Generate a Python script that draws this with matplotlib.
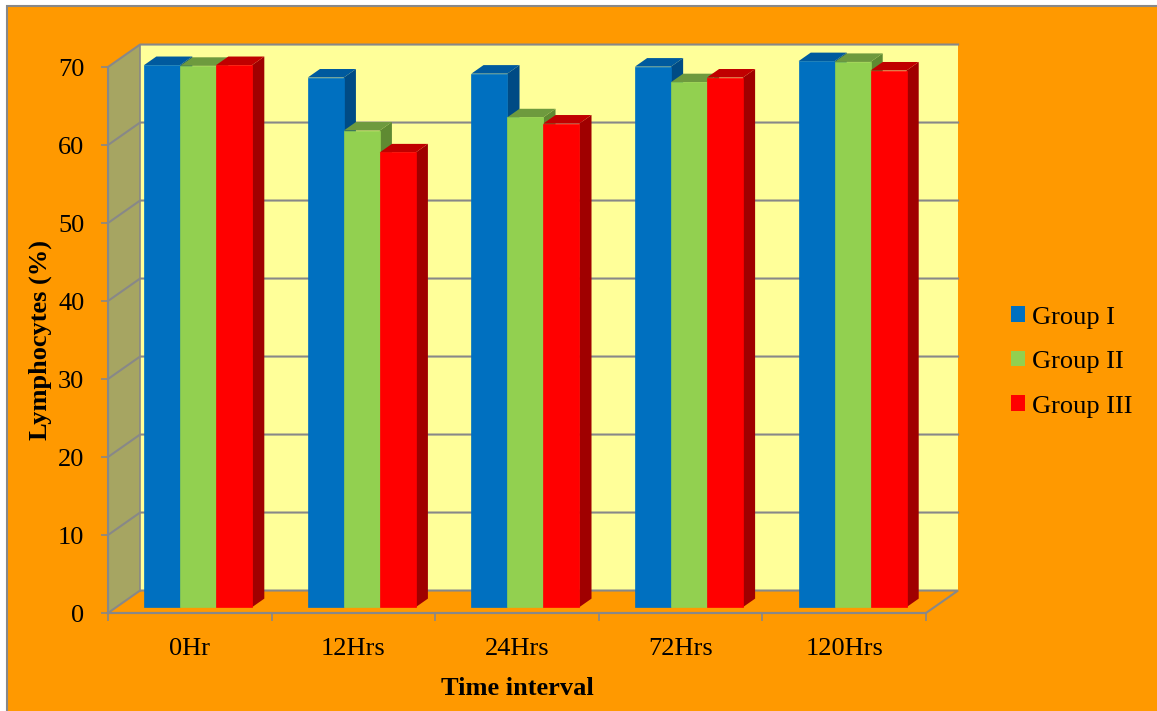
import matplotlib
matplotlib.use('Agg')
import matplotlib.pyplot as plt
from matplotlib.patches import Polygon, Rectangle, Patch

# Lymphocyte counts (%) per group over time
categories = ['0Hr', '12Hrs', '24Hrs', '72Hrs', '120Hrs']
group_1 = [69.5, 67.9, 68.4, 69.3, 70.0]
group_2 = [69.4, 61.1, 62.8, 67.3, 69.9]
group_3 = [69.5, 58.3, 62.0, 67.9, 68.8]
series_names = ['Group I', 'Group II', 'Group III']
y_ticks = [0, 10, 20, 30, 40, 50, 60, 70]

# (front, top, side) shades for each series
shades = [('#0070C0', '#005A9E', '#004B85'),
          ('#92D050', '#6E9A3E', '#5F8A32'),
          ('#FF0000', '#C00000', '#A00000')]

W, H = 1157, 711
DX, DY = 0.196, 2.88     # offset of the back wall, in data units
Z0, Z1 = 0.26, 0.64      # depth span of the bars (0 = front, 1 = back wall)
BAR_W = 0.22
GRAY = '#888888'
ORANGE = '#FF9900'

plt.rcParams['font.family'] = ['Liberation Serif', 'DejaVu Serif']
FS = 19


def proj(x, y, z):
    """Fake 3D: shift a point towards the back wall."""
    return (x + z * DX, y + z * DY)


def poly(ax, pts, fc, ec='none', lw=0.0, z=1):
    ax.add_patch(Polygon(pts, closed=True, facecolor=fc, edgecolor=ec,
                         linewidth=lw, clip_on=False, zorder=z))


fig = plt.figure(figsize=(W / 100, H / 100), dpi=100, facecolor='white')
fig.add_artist(Rectangle((7 / W, -0.05), 1.2, 1 - 6 / H + 0.05,
                         transform=fig.transFigure, facecolor=ORANGE,
                         edgecolor=GRAY, linewidth=1.5, zorder=0))

ax = fig.add_axes([108 / W, (H - 613) / H, 818 / W, 546 / H])
ax.set_xlim(0, len(categories))
ax.set_ylim(0, 70)
ax.patch.set_visible(False)

n = len(categories)
top = y_ticks[-1]

# walls and floor
poly(ax, [proj(0, 0, 0), proj(0, top, 0), proj(0, top, 1), proj(0, 0, 1)], '#A6A562')
poly(ax, [proj(0, 0, 1), proj(n, 0, 1), proj(n, top, 1), proj(0, top, 1)], '#FFFF99')
poly(ax, [proj(0, 0, 0), proj(n, 0, 0), proj(n, 0, 1), proj(0, 0, 1)], ORANGE,
     ec=GRAY, lw=1.5)

# gridlines across the side wall and back wall
for t in y_ticks[1:]:
    pts = [proj(0, t, 0), proj(0, t, 1), proj(n, t, 1)]
    ax.plot([p[0] for p in pts], [p[1] for p in pts], color=GRAY, lw=1.5,
            clip_on=False, zorder=1.5)
ax.plot(*zip(proj(0, 0, 1), proj(0, top, 1)), color=GRAY, lw=1.2,
        clip_on=False, zorder=1.5)

# bars, drawn left to right so each front face hides the previous side
series = [group_1, group_2, group_3]
for i in range(n):
    for j, vals in enumerate(series):
        v = vals[i]
        x0 = i + 0.5 - 1.5 * BAR_W + j * BAR_W
        x1 = x0 + BAR_W
        front_c, top_c, side_c = shades[j]
        zo = 3 + i * 0.1 + j * 0.01
        poly(ax, [proj(x1, 0, Z0), proj(x1, 0, Z1), proj(x1, v, Z1), proj(x1, v, Z0)],
             side_c, z=zo)
        poly(ax, [proj(x0, v, Z0), proj(x1, v, Z0), proj(x1, v, Z1), proj(x0, v, Z1)],
             top_c, z=zo)
        poly(ax, [proj(x0, 0, Z0), proj(x1, 0, Z0), proj(x1, v, Z0), proj(x0, v, Z0)],
             front_c, ec=front_c, lw=0.5, z=zo)

# axes, ticks, labels
for side in ['top', 'right']:
    ax.spines[side].set_visible(False)
for side in ['left', 'bottom']:
    ax.spines[side].set_color(GRAY)
    ax.spines[side].set_linewidth(1.5)
    ax.spines[side].set_zorder(2)

ax.set_yticks(y_ticks)
ax.tick_params(axis='y', direction='out', length=5, width=1.2, color=GRAY,
               pad=12, labelsize=FS)
ax.set_xticks(range(n + 1))
ax.set_xticklabels([])
ax.set_xticks([i + 0.5 for i in range(n)], minor=True)
ax.set_xticklabels(categories, minor=True, fontsize=FS)
ax.tick_params(axis='x', which='major', direction='out', length=6, width=1.2,
               color=GRAY)
ax.tick_params(axis='x', which='minor', length=0, pad=18)

ax.set_xlabel('Time interval', fontsize=FS, fontweight='bold', labelpad=12)
ax.set_ylabel('Lymphocytes (%)', fontsize=FS, fontweight='bold', labelpad=4.5)

handles = [Patch(facecolor=s[0], edgecolor='none') for s in shades]
ax.legend(handles, series_names, loc='center left',
          bbox_to_anchor=(1011 / W, (H - 362) / H),
          bbox_transform=fig.transFigure, frameon=False, fontsize=FS,
          handlelength=0.53, handleheight=0.53, handletextpad=0.25,
          labelspacing=0.85, borderpad=0, borderaxespad=0)

fig.savefig('out.png', dpi=100, facecolor=fig.get_facecolor())
